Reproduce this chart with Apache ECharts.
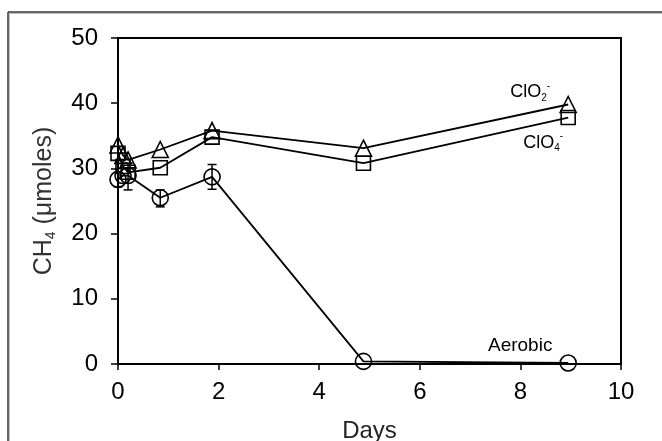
<!DOCTYPE html>
<html><head><meta charset="utf-8">
<script src="https://cdn.jsdelivr.net/npm/echarts@6/dist/echarts.min.js"></script>
<style>html,body{margin:0;padding:0;background:#fff}#c{width:662px;height:441px}</style>
</head><body><div id="c"></div>
<script>
// Data
const days = [0, 0.1, 0.2, 0.84, 1.87, 4.88, 8.95];
const clo2 = [33.6, 32.0, 31.3, 32.9, 35.8, 33.1, 39.8];
const clo4 = [32.3, 30.3, 29.4, 30.1, 34.8, 30.8, 37.8];
const aerobic = [28.3, 28.9, 28.9, 25.5, 28.7, 0.4, 0.15];
const errDays = [0, 0.2, 0.84, 1.87];
const errLow = [27.2, 26.7, 24.1, 26.8];
const errHigh = [29.4, 30.8, 26.7, 30.6];
const seriesNames = ['ClO2-', 'ClO4-', 'Aerobic'];
const xName = 'Days';

const FONT = 'Liberation Sans, Arial, sans-serif';
const chart = echarts.init(document.getElementById('c'), null, {renderer: 'canvas'});

const subRich = {
  m: {fontSize: 18, fontFamily: FONT, color: '#000', lineHeight: 22, verticalAlign: 'middle'},
  s: {fontSize: 10, fontFamily: FONT, color: '#000', verticalAlign: 'bottom', lineHeight: 10},
  p: {fontSize: 10, fontFamily: FONT, color: '#000', verticalAlign: 'top', lineHeight: 10}
};

function buildData(vals, labelCfg) {
  return days.map((d, i) => {
    if (i === days.length - 1 && labelCfg) {
      return {value: [d, vals[i]], label: Object.assign({show: true, position: 'inside', rich: subRich}, labelCfg)};
    }
    return [d, vals[i]];
  });
}

const markerStyle = {color: 'rgba(0,0,0,0)', borderColor: '#000', borderWidth: 1.6};
const lineStyle = {color: '#000', width: 1.8};

const option = {
  animation: false,
  backgroundColor: '#fff',
  grid: {left: 118, top: 38, right: 41, bottom: 77, containLabel: false, outerBoundsMode: 'none',
    show: true, borderColor: '#000', borderWidth: 2, backgroundColor: 'transparent'},
  xAxis: {
    type: 'value', min: 0, max: 10, interval: 2,
    name: xName, nameLocation: 'middle', nameGap: 55,
    nameTextStyle: {fontSize: 24, fontFamily: FONT, color: '#222'},
    axisLine: {show: true, onZero: false, lineStyle: {color: '#000', width: 2}},
    axisTick: {show: true, inside: false, length: 6, lineStyle: {color: '#000', width: 1.5}},
    axisLabel: {fontSize: 24, fontFamily: FONT, color: '#000', margin: 16},
    splitLine: {show: false}
  },
  yAxis: {
    type: 'value', min: 0, max: 50, interval: 10,
    name: '{m|CH}{s|4}{m| (μmoles)}', nameLocation: 'middle', nameGap: 60, nameRotate: 90,
    nameTextStyle: {
      rich: {
        m: {fontSize: 25, fontFamily: FONT, color: '#333', lineHeight: 28, verticalAlign: 'middle'},
        s: {fontSize: 14, fontFamily: FONT, color: '#333', lineHeight: 14, verticalAlign: 'bottom'}
      }
    },
    axisLine: {show: true, onZero: false, lineStyle: {color: '#000', width: 2}},
    axisTick: {show: true, inside: false, length: 7, lineStyle: {color: '#000', width: 1.5}},
    axisLabel: {fontSize: 24, fontFamily: FONT, color: '#000', margin: 20},
    splitLine: {show: false}
  },
  graphic: [
    {type: 'line', shape: {x1: 8, y1: 12, x2: 662, y2: 12}, style: {stroke: '#333', lineWidth: 1.5}, silent: true},
    {type: 'line', shape: {x1: 8, y1: 12, x2: 8, y2: 441}, style: {stroke: '#333', lineWidth: 1.5}, silent: true},
    {type: 'line', shape: {x1: 9.5, y1: 13.5, x2: 662, y2: 13.5}, style: {stroke: '#bbb', lineWidth: 1}, silent: true},
    {type: 'line', shape: {x1: 9.5, y1: 13.5, x2: 9.5, y2: 441}, style: {stroke: '#bbb', lineWidth: 1}, silent: true}
  ],
  series: [
    {
      name: seriesNames[2], type: 'custom', z: 1,
      data: errDays.map((d, i) => [d, errLow[i], errHigh[i]]),
      renderItem: function (params, api) {
        const lo = api.coord([api.value(0), api.value(1)]);
        const hi = api.coord([api.value(0), api.value(2)]);
        const w = 4.5;
        const st = {stroke: '#000', lineWidth: 1.5};
        return {type: 'group', children: [
          {type: 'line', shape: {x1: lo[0], y1: lo[1], x2: hi[0], y2: hi[1]}, style: st},
          {type: 'line', shape: {x1: lo[0] - w, y1: lo[1], x2: lo[0] + w, y2: lo[1]}, style: st},
          {type: 'line', shape: {x1: hi[0] - w, y1: hi[1], x2: hi[0] + w, y2: hi[1]}, style: st}
        ]};
      }
    },
    {
      name: seriesNames[2], type: 'line', z: 2,
      data: buildData(aerobic, {formatter: '{a|Aerobic}', offset: [-48, -17],
        rich: {a: {fontSize: 19, fontFamily: FONT, color: '#000', lineHeight: 22}}}),
      symbol: 'circle', symbolSize: 16, showAllSymbol: true,
      itemStyle: markerStyle, lineStyle: lineStyle
    },
    {
      name: seriesNames[1], type: 'line', z: 3,
      data: buildData(clo4, {formatter: '{m|ClO}{s|4}{p|-}', offset: [-25, 25]}),
      symbol: 'rect', symbolSize: 14, showAllSymbol: true,
      itemStyle: markerStyle, lineStyle: lineStyle
    },
    {
      name: seriesNames[0], type: 'line', z: 4,
      data: buildData(clo2, {formatter: '{m|ClO}{s|2}{p|-}', offset: [-38, -12]}),
      symbol: 'triangle', symbolSize: 16, showAllSymbol: true,
      itemStyle: markerStyle, lineStyle: lineStyle
    }
  ]
};
chart.setOption(option);
</script>
</body></html>
